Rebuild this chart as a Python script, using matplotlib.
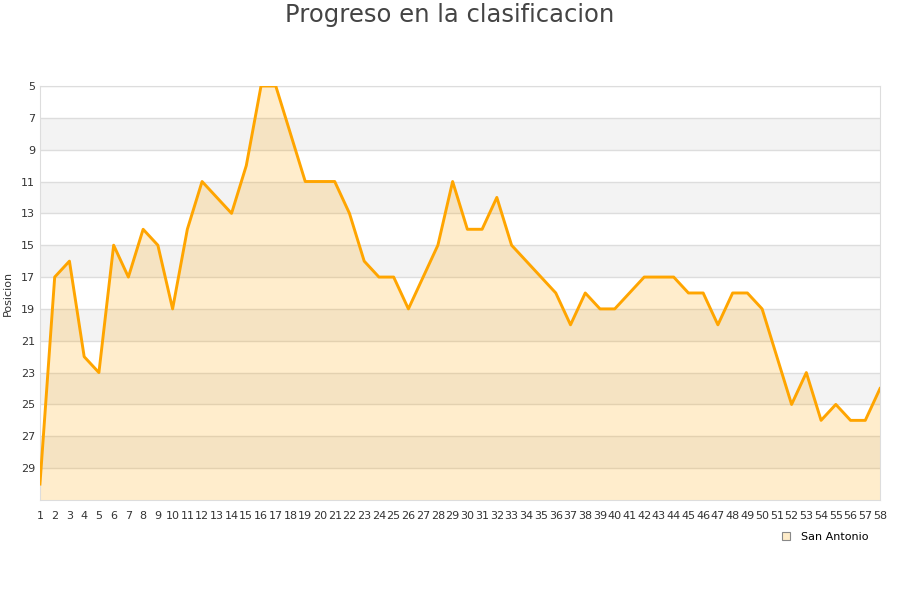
import matplotlib.pyplot as plt
from matplotlib.lines import Line2D

plt.rcParams['font.family'] = ['DejaVu Sans']

# jornadas y posicion de San Antonio
jornadas = list(range(1, 59))
posicion = [30, 17, 16, 22, 23, 15, 17, 14, 15, 19,
            14, 11, 12, 13, 10, 5, 5, 8, 11, 11,
            11, 13, 16, 17, 17, 19, 17, 15, 11, 14,
            14, 12, 15, 16, 17, 18, 20, 18, 19, 19,
            18, 17, 17, 17, 18, 18, 20, 18, 18, 19,
            22, 25, 23, 26, 25, 26, 26, 24]
yticks = list(range(5, 30, 2))
equipo = "San Antonio"

fig = plt.figure(figsize=(9, 6), dpi=100)
ax = fig.add_axes([0.0444, 0.1667, 0.9334, 0.69])

# bandas alternas
for b in range(7, 31, 4):
    ax.axhspan(b, b + 2, color='#f3f3f3', zorder=0, lw=0)
for t in yticks:
    ax.axhline(t, color='#dddddd', lw=1, zorder=1)

ax.fill_between(jornadas, posicion, 31, color='#ffa500', alpha=0.2, lw=0, zorder=2)
ax.plot(jornadas, posicion, color='#ffa500', lw=2.1, zorder=3)

ax.set_xlim(1, 58)
ax.set_ylim(31, 5)
ax.set_yticks(yticks)
ax.set_xticks(jornadas)
ax.tick_params(axis='both', length=0, labelsize=8, colors='#333333')
ax.tick_params(axis='x', pad=8)
for s in ax.spines.values():
    s.set_color('#dddddd')
ax.set_ylabel("Posicion", fontsize=8, color='#333333', labelpad=6)

fig.suptitle("Progreso en la clasificacion", fontsize=17.5, color='#444444', y=0.995)

h = Line2D([], [], marker='s', ls='', markersize=6, markerfacecolor='#feecc9',
           markeredgecolor='#888888', markeredgewidth=0.8)
fig.legend([h], [equipo], loc='center', bbox_to_anchor=(0.913, 0.105),
           frameon=False, fontsize=8, handletextpad=0.3)

fig.savefig("out.png", dpi=100)
